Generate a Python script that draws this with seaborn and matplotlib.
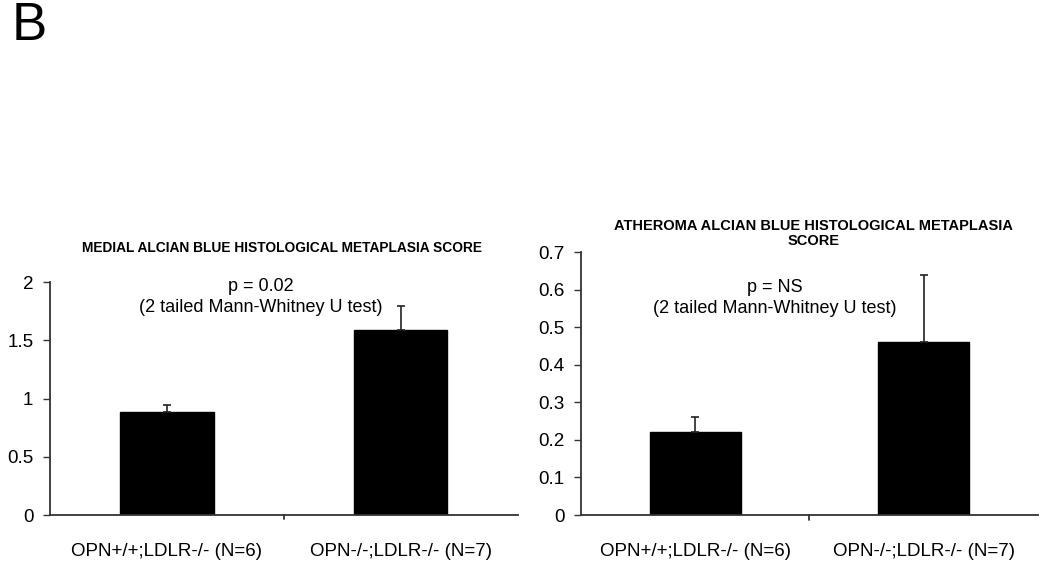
import matplotlib
matplotlib.use("Agg")
import matplotlib.pyplot as plt
import seaborn as sns
import pandas as pd

groups = ["OPN+/+;LDLR-/- (N=6)", "OPN-/-;LDLR-/- (N=7)"]
medial_mean = [0.88, 1.59]
medial_err = [0.06, 0.20]
atheroma_mean = [0.22, 0.46]
atheroma_err = [0.042, 0.178]

sns.set_theme(style="white")
plt.rcParams["font.family"] = ["Liberation Sans", "DejaVu Sans"]
plt.rcParams["text.color"] = "black"
plt.rcParams["xtick.color"] = "black"
plt.rcParams["ytick.color"] = "black"
plt.rcParams["xtick.labelcolor"] = "black"
plt.rcParams["ytick.labelcolor"] = "black"

fig = plt.figure(figsize=(10.5, 5.68), dpi=100)
ax1 = fig.add_axes([0.0476, 0.0933, 0.4454, 0.4102])
ax2 = fig.add_axes([0.5533, 0.0933, 0.4353, 0.4630])

def panel(ax, means, errs, ylim, yticks, yticklabels, title, title_size, ptext,
          title_x, title_y, p_x, p_y):
    df = pd.DataFrame({"group": groups, "value": means})
    sns.barplot(data=df, x="group", y="value", color="black", width=0.4,
                saturation=1, ax=ax, errorbar=None)
    for p in ax.patches:
        p.set_edgecolor("black")
    ax.errorbar(range(len(means)), means, yerr=[[0] * len(errs), errs],
                fmt="none", ecolor="#222222", elinewidth=1.2, capsize=3, capthick=1.2)
    ax.set_xlim(-0.5, 1.5)
    ax.set_ylim(*ylim)
    ax.set_yticks(yticks)
    ax.set_yticklabels(yticklabels, fontsize=13.6, color="black")
    ax.set_xticks([0, 1])
    ax.set_xticklabels(groups, fontsize=13.5, color="black")
    ax.tick_params(axis="x", length=0, pad=20)
    ax.tick_params(axis="y", length=5, width=1, direction="out", pad=7, left=True,
                   color="#333333")
    ax.set_xlabel("")
    ax.set_ylabel("")
    for s in ["top", "right"]:
        ax.spines[s].set_visible(False)
    for s in ["left", "bottom"]:
        ax.spines[s].set_color("#333333")
        ax.spines[s].set_linewidth(1.3)
    # mid tick on x axis
    ax.plot([0.5, 0.5], [0, -0.018], transform=ax.get_xaxis_transform(),
            color="#333333", lw=1.3, clip_on=False)
    ax.text(title_x, title_y, title, transform=ax.transAxes, ha="center", va="center",
            fontsize=title_size, fontweight="bold", linespacing=1.15, color="black")
    ax.text(p_x, p_y, ptext, transform=ax.transAxes, ha="center", va="center",
            fontsize=13, linespacing=1.32, color="black")

panel(ax1, medial_mean, medial_err, (0, 2), [0, 0.5, 1, 1.5, 2],
      ["0", "0.5", "1", "1.5", "2"],
      "MEDIAL ALCIAN BLUE HISTOLOGICAL METAPLASIA SCORE", 9.9,
      "p = 0.02\n(2 tailed Mann-Whitney U test)", 0.497, 1.146, 0.451, 0.935)
panel(ax2, atheroma_mean, atheroma_err, (0, 0.7), [0, 0.1, 0.2, 0.3, 0.4, 0.5, 0.6, 0.7],
      ["0", "0.1", "0.2", "0.3", "0.4", "0.5", "0.6", "0.7"],
      "ATHEROMA ALCIAN BLUE HISTOLOGICAL METAPLASIA\nSCORE", 10.5,
      "p = NS\n(2 tailed Mann-Whitney U test)", 0.509, 1.070, 0.424, 0.825)

fig.text(0.011, 0.955, "B", fontsize=38, ha="left", va="center", color="black")

fig.savefig("out.png", dpi=100, facecolor="white")
